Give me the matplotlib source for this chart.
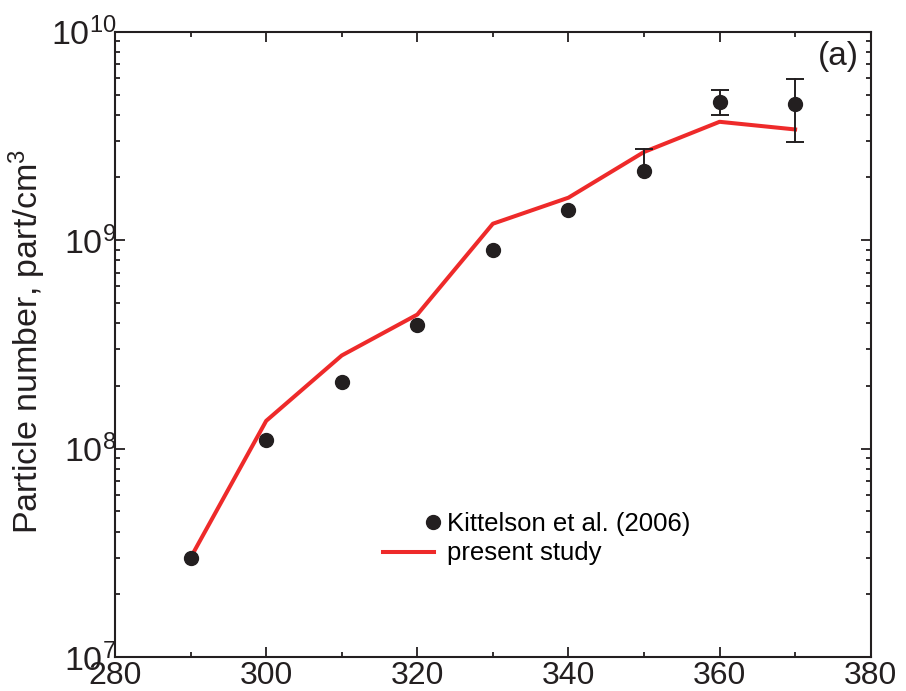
import numpy as np
import matplotlib
matplotlib.use("Agg")
from matplotlib import pyplot as plt
from matplotlib.lines import Line2D
from matplotlib.legend_handler import HandlerLine2D
from matplotlib.ticker import MultipleLocator, LogLocator, NullFormatter

# data
temp_meas = [290, 300, 310, 320, 330, 340, 350, 360, 370]
pn_meas = [3.0e7, 1.1e8, 2.1e8, 3.9e8, 9.0e8, 1.4e9, 2.15e9, 4.6e9, 4.5e9]
err_low = [0, 0, 0, 0, 0, 0, 0, 0.6e9, 1.53e9]
err_high = [0, 0, 0, 0, 0, 0, 0.59e9, 0.67e9, 1.44e9]

temp_model = [290, 300, 310, 320, 330, 340, 350, 360, 370]
pn_model = [3.0e7, 1.36e8, 2.8e8, 4.4e8, 1.2e9, 1.6e9, 2.65e9, 3.7e9, 3.4e9]

plt.rcParams['font.family'] = ['Liberation Sans', 'DejaVu Sans']
plt.rcParams['mathtext.fontset'] = 'custom'
plt.rcParams['mathtext.rm'] = 'Liberation Sans'
plt.rcParams['mathtext.it'] = 'Liberation Sans'
plt.rcParams['mathtext.default'] = 'regular'


class RightMarkerHandler(HandlerLine2D):
    # put the legend marker at the right end of the handle
    def get_xdata(self, legend, xdescent, ydescent, width, height, fontsize):
        x = [-xdescent + width - 1]
        return x, x


fig = plt.figure(figsize=(9.06, 6.91), dpi=100)
ax = fig.add_axes([0.127, 0.049, 0.834, 0.905])

dark = '#231f20'
red = '#ee2a2a'

ax.plot(temp_model, pn_model, color=red, lw=2.9, zorder=2)

# error bars: stems, then caps only where the figure shows them
x_top, y_top, x_bot, y_bot = [], [], [], []
for t, v, lo, hi in zip(temp_meas, pn_meas, err_low, err_high):
    if lo > 0 or hi > 0:
        ax.plot([t, t], [v - lo, v + hi], color=dark, lw=1.4, zorder=3)
    if hi > 0:
        x_top.append(t)
        y_top.append(v + hi)
    if lo > 0:
        x_bot.append(t)
        y_bot.append(v - lo)
ax.plot(x_top + x_bot, y_top + y_bot, ls='none', marker='_', ms=13,
        mew=1.4, color=dark, zorder=3)

ax.plot(temp_meas, pn_meas, 'o', color=dark, ms=10, ls='none', zorder=4)

ax.set_yscale('log')
ax.set_xlim(280, 380)
ax.set_ylim(1e7, 1e10)
ax.xaxis.set_major_locator(MultipleLocator(20))
ax.xaxis.set_minor_locator(MultipleLocator(10))
ax.yaxis.set_minor_locator(LogLocator(base=10, subs=np.arange(2, 10), numticks=20))
ax.yaxis.set_minor_formatter(NullFormatter())
ax.set_yticks([1e7, 1e8, 1e9, 1e10])
ax.set_yticklabels(['$10^{7}$', '$10^{8}$', '$10^{9}$', '$10^{10}$'])

ax.tick_params(which='both', direction='in', top=True, right=True, width=1.3, colors=dark)
ax.tick_params(which='major', length=7, pad=3)
ax.tick_params(which='minor', length=3.5)
ax.tick_params(axis='x', which='major', labelsize=23)
ax.tick_params(axis='y', which='major', labelsize=24.5, pad=-1)
for s in ax.spines.values():
    s.set_linewidth(1.5)
    s.set_color(dark)

ax.set_ylabel('Particle number, part/cm$^3$', fontsize=24.5, color=dark)
ax.yaxis.set_label_coords(-0.089, 0.505)

ax.text(0.985, 0.985, '(a)', transform=ax.transAxes, ha='right', va='top',
        fontsize=24, color=dark)

h_meas = Line2D([], [], ls='none', marker='o', ms=10, color=dark)
h_model = Line2D([], [], color=red, lw=2.9)
ax.legend([h_meas, h_model], ['Kittelson et al. (2006)', 'present study'],
          handler_map={h_meas: RightMarkerHandler(numpoints=2)},
          loc='lower left', bbox_to_anchor=(0.337, 0.126),
          frameon=False, fontsize=18.5, handlelength=2.0, handletextpad=0.5,
          labelspacing=0.2, borderpad=0)

fig.savefig('out.png', dpi=100)
